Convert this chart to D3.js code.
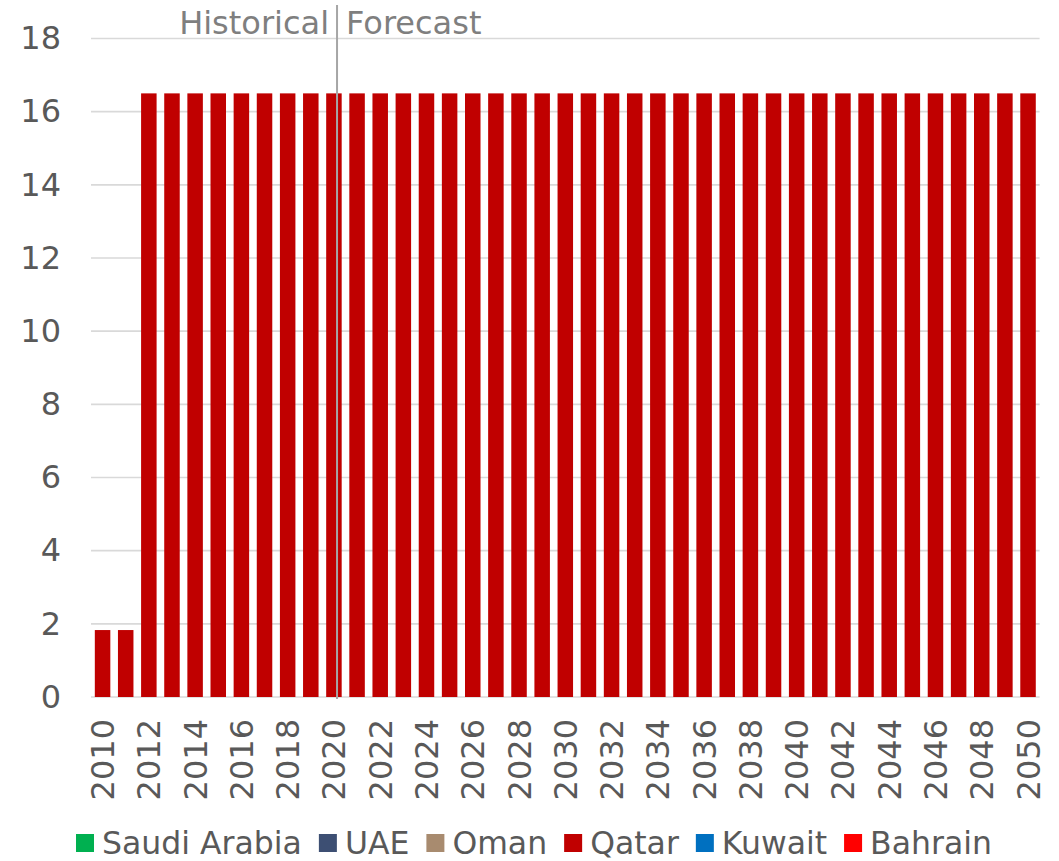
<!DOCTYPE html>
<html>
<head>
<meta charset="utf-8">
<script src="https://cdn.jsdelivr.net/npm/d3@7/dist/d3.min.js"></script>
<style>
  html, body { margin: 0; padding: 0; background: #fff; }
  svg { display: block; }
  text { font-family: "DejaVu Sans", Verdana, sans-serif; }
</style>
</head>
<body>
<svg id="chart" width="1059" height="861"></svg>
<script>
// ---- Data ----
const years = d3.range(2010, 2051).map(String);
const seriesNames = ["Saudi Arabia", "UAE", "Oman", "Qatar", "Kuwait", "Bahrain"];
const seriesColors = ["#00b050", "#3d4f73", "#a88b6f", "#c00000", "#0070c0", "#ff0000"];
// Qatar values (others are zero throughout)
const qatar = [1.83, 1.83, 16.5, 16.5, 16.5, 16.5, 16.5, 16.5, 16.5, 16.5, 16.5,
               16.5, 16.5, 16.5, 16.5, 16.5, 16.5, 16.5, 16.5, 16.5, 16.5,
               16.5, 16.5, 16.5, 16.5, 16.5, 16.5, 16.5, 16.5, 16.5, 16.5,
               16.5, 16.5, 16.5, 16.5, 16.5, 16.5, 16.5, 16.5, 16.5, 16.5];
const yTicks = [0, 2, 4, 6, 8, 10, 12, 14, 16, 18];
const xTickLabels = years.filter((d, i) => i % 2 === 0);
const dividerYear = "2020";
const periodLabels = ["Historical", "Forecast"];

// ---- Layout ----
const FS = 32;
const svg = d3.select("#chart");
const plot = { left: 91, right: 1039.6, top: 38.5, bottom: 697 };

const x = d3.scaleBand().domain(years).range([plot.left, plot.right]).paddingInner(0.33).paddingOuter(0.165);
const y = d3.scaleLinear().domain([0, 18]).range([plot.bottom, plot.top]);

// Gridlines
svg.append("g").selectAll("line").data(yTicks).join("line")
  .attr("x1", plot.left).attr("x2", plot.right)
  .attr("y1", d => y(d)).attr("y2", d => y(d))
  .attr("stroke", "#d9d9d9").attr("stroke-width", 1.6);

// Y axis labels
const yAxis = d3.axisLeft(y).tickValues(yTicks).tickSize(0).tickPadding(0);
const gy = svg.append("g").attr("transform", `translate(${plot.left - 30},0)`).call(yAxis);
gy.select(".domain").remove();
gy.selectAll("text").attr("font-size", FS).attr("fill", "#595959");

// Bars
svg.append("g").selectAll("rect").data(years.map((yr, i) => ({ yr, v: qatar[i] }))).join("rect")
  .attr("x", d => x(d.yr))
  .attr("width", x.bandwidth())
  .attr("y", d => y(d.v))
  .attr("height", d => y(0) - y(d.v))
  .attr("fill", seriesColors[3]);

// X axis labels
const xAxis = d3.axisBottom(x).tickValues(xTickLabels).tickSize(0).tickPadding(0);
const gx = svg.append("g").attr("transform", `translate(0,${plot.bottom})`).call(xAxis);
gx.select(".domain").remove();
gx.selectAll("text")
  .attr("font-size", FS).attr("fill", "#595959")
  .attr("transform", "rotate(-90)")
  .attr("text-anchor", "end")
  .attr("x", -22).attr("y", 0).attr("dy", "0.36em");

// Divider line
const divX = x(dividerYear) + x.bandwidth() * 0.7;
svg.append("line")
  .attr("x1", divX).attr("x2", divX)
  .attr("y1", 5).attr("y2", plot.bottom + 2)
  .attr("stroke", "#a6a6a6").attr("stroke-width", 2);

svg.append("text").attr("x", divX - 8).attr("y", 34).attr("text-anchor", "end")
  .attr("font-size", FS).attr("fill", "#7f7f7f").text(periodLabels[0]);
svg.append("text").attr("x", divX + 9).attr("y", 34).attr("text-anchor", "start")
  .attr("font-size", FS).attr("fill", "#7f7f7f").text(periodLabels[1]);

// Legend
const legend = svg.append("g");
let lx = 76;
const ly = 834;
seriesNames.forEach((name, i) => {
  const g = legend.append("g").attr("transform", `translate(${lx},${ly})`);
  g.append("rect").attr("width", 18).attr("height", 18).attr("fill", seriesColors[i]);
  const t = g.append("text").attr("x", 26).attr("y", 20)
    .attr("font-size", 31.5).attr("fill", "#595959").text(name);
  const w = t.node().getComputedTextLength();
  lx += 26 + w + 17;
});
</script>
</body>
</html>
